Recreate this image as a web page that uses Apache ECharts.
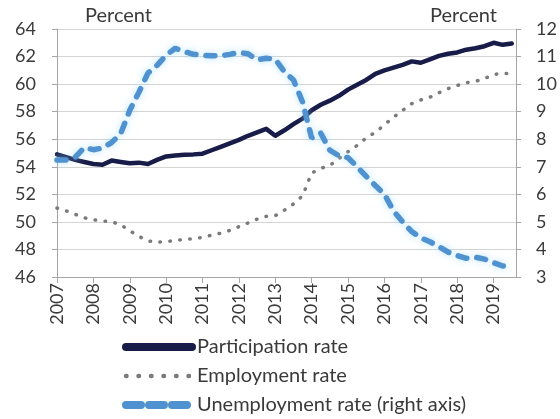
<!DOCTYPE html>
<html>
<head>
<meta charset="utf-8">
<script src="https://cdn.jsdelivr.net/npm/echarts@6/dist/echarts.min.js"></script>
<style>
  html, body { margin: 0; padding: 0; background: #fff; }
  #chart { width: 560px; height: 419px; }
</style>
</head>
<body>
<div id="chart"></div>
<script>
// Quarterly observations, 2007 Q1 – 2019 Q3
const quarters = [];
for (let y = 2007; y <= 2019; y++) {
  for (let q = 1; q <= 4; q++) {
    if (y === 2019 && q > 3) break;
    quarters.push(y + 'Q' + q);
  }
}

// Labour force participation rate, percent (left axis)
const participation = [
  54.9, 54.7, 54.5, 54.35, 54.2, 54.15, 54.45, 54.35, 54.25, 54.3,
  54.2, 54.5, 54.75, 54.82, 54.87, 54.9, 54.95, 55.2, 55.45, 55.7,
  55.95, 56.25, 56.5, 56.75, 56.25, 56.65, 57.1, 57.5, 58.1, 58.5,
  58.8, 59.15, 59.6, 59.95, 60.3, 60.75, 61.0, 61.2, 61.4, 61.65,
  61.55, 61.8, 62.05, 62.2, 62.3, 62.5, 62.6, 62.75, 63.0, 62.85,
  62.95
];

// Employment rate, percent (left axis)
const employment = [
  51.0, 50.8, 50.55, 50.3, 50.15, 50.07, 50.0, 49.8, 49.35, 48.95,
  48.62, 48.52, 48.59, 48.62, 48.75, 48.76, 48.88, 49.03, 49.18, 49.38,
  49.65, 49.92, 50.2, 50.4, 50.45, 50.85, 51.3, 51.9, 53.55, 53.88,
  54.1, 54.6, 55.1, 55.55, 56.1, 56.5, 57.05, 57.6, 58.1, 58.58,
  58.85, 59.05, 59.38, 59.67, 59.9, 60.1, 60.2, 60.4, 60.7, 60.78,
  60.75
];

// Unemployment rate, percent (right axis)
const unemployment = [
  7.25, 7.25, 7.35, 7.7, 7.62, 7.68, 7.88, 8.2, 9.05, 9.7,
  10.4, 10.68, 11.05, 11.3, 11.18, 11.08, 11.05, 11.03, 11.03, 11.08,
  11.15, 11.1, 10.88, 10.94, 10.9, 10.45, 10.15, 9.35, 8.04, 8.22,
  7.6, 7.4, 7.33, 7.0, 6.65, 6.32, 6.0, 5.4, 5.0, 4.65,
  4.42, 4.28, 4.1, 3.9, 3.78, 3.68, 3.72, 3.65, 3.52, 3.4,
  3.38
];

const leftTicks = { min: 46, max: 64, step: 2 };
const rightTicks = { min: 3, max: 12, step: 1 };
const yearRange = { first: 2007, last: 2019.62 };

// Position of each quarter on the time axis (fractional year)
const qx = quarters.map(s => Number(s.slice(0, 4)) + (Number(s.slice(5)) - 1) / 4);
const pairs = vals => vals.map((v, i) => [qx[i], v]);

const FONT = 'Lato, "Open Sans", sans-serif';
const TXT = '#3a3a3a';
const AXIS = '#a6a6a6';
const NAVY = '#171c48';
const GREY = '#7a7a7a';
const BLUE = '#4f92cf';

const chart = echarts.init(document.getElementById('chart'), null, { renderer: 'canvas' });

chart.setOption({
  animation: false,
  backgroundColor: '#ffffff',
  textStyle: { fontFamily: FONT },
  grid: { left: 57, right: 37, top: 29, bottom: 142, containLabel: false },
  graphic: [
    { type: 'text', left: 85, top: 6, style: { text: 'Percent', fontFamily: FONT, fontSize: 20, fill: TXT } },
    { type: 'text', left: 430, top: 6, style: { text: 'Percent', fontFamily: FONT, fontSize: 20, fill: TXT } }
  ],
  legend: {
    orient: 'vertical',
    left: 122,
    top: 337,
    height: 100,
    padding: 0,
    itemWidth: 66,
    itemHeight: 8,
    itemGap: 9,
    itemStyle: { borderWidth: 0, opacity: 0 },
    textStyle: { fontFamily: FONT, fontSize: 20, color: TXT },
    data: [
      { name: 'Participation rate', lineStyle: { width: 8, cap: 'round' } },
      { name: 'Employment rate', lineStyle: { width: 4.5, type: [0.5, 12], cap: 'round' } },
      { name: 'Unemployment rate (right axis)', lineStyle: { width: 8, type: [15, 8], cap: 'round', shadowBlur: 0 } }
    ]
  },
  xAxis: {
    type: 'value',
    min: yearRange.first,
    max: yearRange.last,
    interval: 1,
    axisLine: { show: true, lineStyle: { color: AXIS, width: 1 } },
    axisTick: { show: true, length: 6, inside: false, lineStyle: { color: AXIS } },
    splitLine: { show: false },
    axisLabel: {
      rotate: 90,
      fontFamily: FONT,
      fontSize: 18,
      color: TXT,
      margin: 6,
      showMaxLabel: false,
      formatter: v => (Number.isInteger(v) ? String(v) : '')
    }
  },
  yAxis: [
    {
      type: 'value',
      min: leftTicks.min,
      max: leftTicks.max,
      interval: leftTicks.step,
      axisLine: { show: true, lineStyle: { color: AXIS } },
      axisTick: { show: true, length: 5, lineStyle: { color: AXIS } },
      splitLine: { show: true, lineStyle: { color: '#d4d4d4', width: 1 } },
      axisLabel: { fontFamily: FONT, fontSize: 18, color: TXT, margin: 21 }
    },
    {
      type: 'value',
      min: rightTicks.min,
      max: rightTicks.max,
      interval: rightTicks.step,
      position: 'right',
      axisLine: { show: true, lineStyle: { color: AXIS } },
      axisTick: { show: true, length: 5, lineStyle: { color: AXIS } },
      splitLine: { show: false },
      axisLabel: { fontFamily: FONT, fontSize: 18, color: TXT, margin: 20 }
    }
  ],
  series: [
    {
      name: 'Participation rate',
      type: 'line',
      yAxisIndex: 0,
      symbol: 'none',
      data: pairs(participation),
      lineStyle: { color: NAVY, width: 4.5, cap: 'round', join: 'round' },
      itemStyle: { color: NAVY },
      z: 3
    },
    {
      name: 'Employment rate',
      type: 'line',
      yAxisIndex: 0,
      symbol: 'none',
      data: pairs(employment),
      lineStyle: { color: GREY, width: 3.5, type: [0.5, 9.5], cap: 'round' },
      itemStyle: { color: GREY },
      z: 2
    },
    {
      name: 'Unemployment rate (right axis)',
      type: 'line',
      yAxisIndex: 1,
      symbol: 'none',
      data: pairs(unemployment),
      lineStyle: {
        color: BLUE, width: 5.5, type: [9, 10], cap: 'round',
        shadowColor: 'rgba(150,215,255,0.7)', shadowBlur: 7
      },
      itemStyle: { color: BLUE },
      z: 4
    }
  ]
});
</script>
</body>
</html>
